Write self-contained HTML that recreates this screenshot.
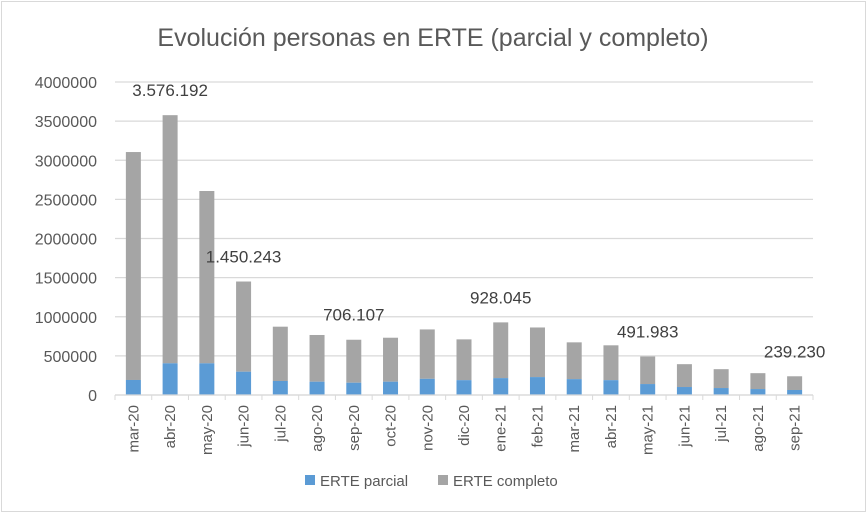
<!DOCTYPE html>
<html><head><meta charset="utf-8"><style>
body{margin:0;background:#fff;}
svg{display:block;font-family:"Liberation Sans",Calibri,sans-serif;}
</style></head><body>
<svg id="chart" width="867" height="513" viewBox="0 0 867 513">
<rect x="1.5" y="1.5" width="864" height="510" fill="#fff" stroke="#d9d9d9"/>
<text x="433" y="46" text-anchor="middle" font-size="25" fill="#595959">Evolución personas en ERTE (parcial y completo)</text>
<g id="grid"></g><g id="bars"></g><g id="axes"></g><g id="labels"></g>
<g>
<rect x="305" y="475" width="10" height="10" fill="#5b9bd5"/>
<text x="320" y="486" font-size="15" fill="#595959">ERTE parcial</text>
<rect x="438" y="475" width="10" height="10" fill="#a5a5a5"/>
<text x="453" y="486" font-size="15" fill="#595959">ERTE completo</text>
</g>
</svg>
<script>
const categories=["mar-20","abr-20","may-20","jun-20","jul-20","ago-20","sep-20","oct-20","nov-20","dic-20","ene-21","feb-21","mar-21","abr-21","may-21","jun-21","jul-21","ago-21","sep-21"];
const totals=[3105000,3576192,2607000,1450243,873000,767000,706107,732000,838000,711000,928045,863000,673000,635000,491983,394000,330000,279000,239230];
const parcial=[192000,405000,405000,298000,179000,170000,157000,170000,207000,190000,216000,229000,203000,190000,140000,102000,89000,76000,64000];
const labelIdx=[1,3,6,10,14,18];
const labelText=["3.576.192","1.450.243","706.107","928.045","491.983","239.230"];
const yTicks=[0,500000,1000000,1500000,2000000,2500000,3000000,3500000,4000000];
const NS="http://www.w3.org/2000/svg";
const L=115,R=813,T=82,B=395,YMAX=4000000;
const step=(R-L)/categories.length;
const y=v=>B-(v/YMAX)*(B-T);
const xc=i=>L+step*(i+0.5);
function mk(tag,attrs,parent,txt){const e=document.createElementNS(NS,tag);for(const k in attrs)e.setAttribute(k,attrs[k]);if(txt!==undefined)e.textContent=txt;document.getElementById(parent).appendChild(e);return e;}
yTicks.forEach(t=>{
  const g=mk("line",{x1:L,x2:R,y1:y(t),y2:y(t),stroke:"#d9d9d9","stroke-width":1.3},"grid");
  
  
  const tx=mk("text",{x:97,y:y(t)+6,"text-anchor":"end","font-size":16,fill:"#595959"},"axes",String(t));
  
  
});
const bw=7.5;
categories.forEach((c,i)=>{
  const b1=mk("rect",{x:xc(i)-bw,y:y(totals[i]),width:bw*2,height:y(parcial[i])-y(totals[i]),fill:"#a5a5a5"},"bars");
  
  
  const b2=mk("rect",{x:xc(i)-bw,y:y(parcial[i]),width:bw*2,height:B-y(parcial[i]),fill:"#5b9bd5"},"bars");
  
  
  const tk=mk("line",{x1:L+step*i,x2:L+step*i,y1:B,y2:B+5,stroke:"#d9d9d9"},"axes");
  
  
  const lx=xc(i)+5,ly=B+10;
  const tl=mk("text",{x:lx,y:ly,"text-anchor":"end","font-size":15,fill:"#595959",transform:`rotate(-90 ${lx} ${ly})`},"axes",c);
  
  
});
const ax=mk("line",{x1:L,x2:R,y1:B,y2:B,stroke:"#d9d9d9","stroke-width":1.3},"axes");


const lt=mk("line",{x1:R,x2:R,y1:B,y2:B+5,stroke:"#d9d9d9"},"axes");


labelIdx.forEach((i,k)=>{
  const t=mk("text",{x:xc(i),y:y(totals[i])-19,"text-anchor":"middle","font-size":17,fill:"#404040"},"labels",labelText[k]);
  
  
});
</script>
</body></html>
